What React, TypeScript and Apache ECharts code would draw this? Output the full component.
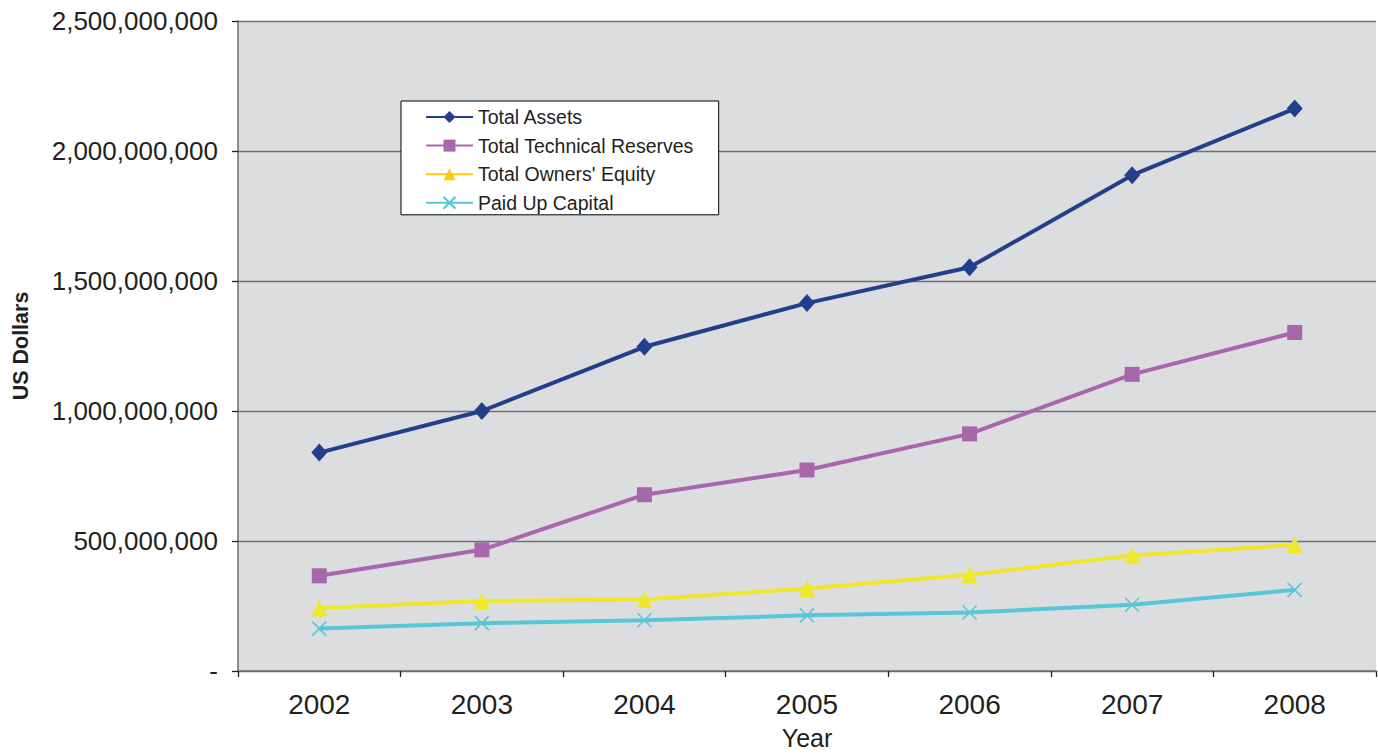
import React, { useEffect, useRef } from "react";
import * as echarts from "echarts";

const years = ["2002", "2003", "2004", "2005", "2006", "2007", "2008"];
const totalAssets = [840e6, 1000e6, 1247e6, 1415e6, 1553e6, 1907e6, 2163e6];
const totalTechnicalReserves = [366e6, 466e6, 678e6, 773e6, 912e6, 1141e6, 1302e6];
const totalOwnersEquity = [242e6, 269e6, 275e6, 317e6, 370e6, 444e6, 485e6];
const paidUpCapital = [163e6, 184e6, 195e6, 214e6, 225e6, 255e6, 312e6];

const FONT = "'Liberation Sans', Arial, Helvetica, sans-serif";
const TEXT = "#231F20";

export default function App() {
  const ref = useRef<HTMLDivElement>(null);
  useEffect(() => {
    if (!ref.current) return;
    const chart = echarts.init(ref.current, null, { renderer: "svg" });
    const cross = "path://M0,0L10,10M10,0L0,10";
    chart.setOption({
      animation: false,
      textStyle: { fontFamily: FONT, color: TEXT },
      grid: {
        left: 238,
        top: 21,
        right: 2,
        bottom: 79,
        show: true,
        backgroundColor: "#DCDDDF",
        borderWidth: 0,
      },
      legend: {
        orient: "vertical",
        left: 401,
        top: 101,
        padding: [6, 25, 2, 24],
        itemGap: 8.6,
        itemWidth: 47,
        itemHeight: 15,
        backgroundColor: "#FFFFFF",
        borderColor: "#000000",
        borderWidth: 1,
        borderRadius: 0,
        textStyle: { fontFamily: FONT, fontSize: 19.5, color: TEXT },
        data: [
          { name: "Total Assets" },
          { name: "Total Technical Reserves" },
          {
            name: "Total Owners' Equity",
            itemStyle: { color: "#FFC90E" },
            lineStyle: { color: "#FFC90E" },
          },
          { name: "Paid Up Capital" },
        ],
      },
      xAxis: {
        type: "category",
        data: years,
        boundaryGap: true,
        name: "Year",
        nameLocation: "middle",
        nameGap: 54,
        nameTextStyle: { fontFamily: FONT, fontSize: 25, color: TEXT },
        axisLine: { lineStyle: { color: "#6E6E6E", width: 1.5 } },
        axisTick: { show: true, length: 6, lineStyle: { color: "#231F20", width: 1.3 } },
        axisLabel: { fontFamily: FONT, fontSize: 28, color: TEXT, margin: 19 },
        splitLine: { show: false },
      },
      yAxis: {
        type: "value",
        min: 0,
        max: 2500000000,
        interval: 500000000,
        name: "US Dollars",
        nameLocation: "middle",
        nameRotate: 90,
        nameGap: 206,
        nameTextStyle: { fontFamily: FONT, fontSize: 21.5, fontWeight: "bold", color: TEXT },
        axisLine: { show: true, lineStyle: { color: "#6E6E6E", width: 1.5 } },
        axisTick: { show: true, length: 6, lineStyle: { color: "#231F20", width: 1.3 } },
        axisLabel: {
          fontFamily: FONT,
          fontSize: 26,
          color: TEXT,
          margin: 20,
          formatter: (v: number) => (v === 0 ? "-" : v.toLocaleString("en-US")),
        },
        splitLine: { show: true, lineStyle: { color: "#707070", width: 1.3 } },
      },
      series: [
        {
          name: "Total Assets",
          type: "line",
          data: totalAssets,
          symbol: "diamond",
          symbolSize: [16, 18],
          color: "#233E8B",
          lineStyle: { width: 4, color: "#233E8B" },
          itemStyle: { color: "#233E8B", borderWidth: 0 },
        },
        {
          name: "Total Technical Reserves",
          type: "line",
          data: totalTechnicalReserves,
          symbol: "rect",
          symbolSize: 15,
          color: "#A866AB",
          lineStyle: { width: 4, color: "#A866AB" },
          itemStyle: { color: "#A866AB", borderWidth: 0 },
        },
        {
          name: "Total Owners' Equity",
          type: "line",
          data: totalOwnersEquity,
          symbol: "triangle",
          symbolSize: [16, 17],
          color: "#EDE82C",
          lineStyle: { width: 4, color: "#EDE82C" },
          itemStyle: { color: "#EDE82C", borderWidth: 0 },
        },
        {
          name: "Paid Up Capital",
          type: "line",
          data: paidUpCapital,
          symbol: cross,
          symbolSize: 14,
          color: "#59C6D8",
          lineStyle: { width: 4, color: "#59C6D8" },
          itemStyle: { color: "#59C6D8", borderColor: "#59C6D8", borderWidth: 1.6 },
        },
      ],
    });
    return () => chart.dispose();
  }, []);
  return (
    <div
      ref={ref}
      style={{ position: "fixed", left: 0, top: 0, width: 1378, height: 755, background: "#fff" }}
    />
  );
}
